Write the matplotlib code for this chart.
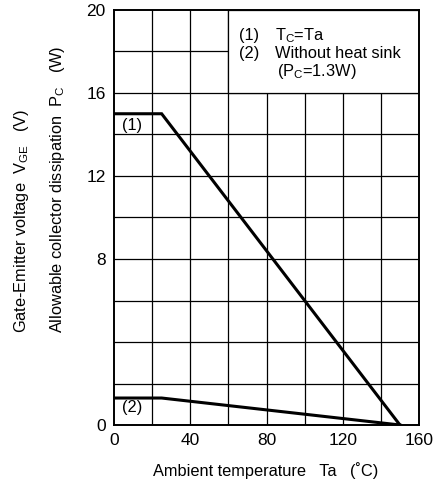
import matplotlib
matplotlib.use("Agg")
import matplotlib.pyplot as plt
from matplotlib.patches import Rectangle

plt.rcParams['font.family'] = ['Liberation Sans', 'DejaVu Sans']
plt.rcParams['mathtext.fontset'] = 'custom'
plt.rcParams['mathtext.rm'] = 'Liberation Sans'

# Data
ta_1 = [0, 25, 150]
pc_1 = [15.0, 15.0, 0.0]
ta_2 = [0, 25, 150]
pc_2 = [1.3, 1.3, 0.0]
x_ticks = [0, 40, 80, 120, 160]
y_ticks = [0, 8, 12, 16, 20]
x_grid = list(range(0, 161, 20))
y_grid = list(range(0, 21, 2))

fig = plt.figure(figsize=(4.46, 4.82), dpi=100)
ax = fig.add_axes([114/446, 1-425/482, 305/446, 415/482])
ax.set_xlim(0, 160)
ax.set_ylim(0, 20)

for xv in x_grid[1:-1]:
    ax.axvline(xv, color='black', lw=0.9, zorder=1)
for yv in y_grid[1:-1]:
    ax.axhline(yv, color='black', lw=0.9, zorder=1)

# legend box blanks grid
ax.add_patch(Rectangle((60, 16), 100, 4, facecolor='white', edgecolor='black', lw=0.9, zorder=2))

ax.plot(ta_1, pc_1, color='black', lw=2.2, zorder=3, solid_joinstyle='miter')
ax.plot(ta_2, pc_2, color='black', lw=2.2, zorder=3, solid_joinstyle='miter')

for s in ax.spines.values():
    s.set_linewidth(1.4)
    s.set_zorder(4)

ax.set_xticks(x_ticks)
ax.set_yticks(y_ticks)
ax.tick_params(length=0, labelsize=12.5, pad=6)

fs = 11.8
ax.text(65.5, 18.75, '(1)', fontsize=fs, va='center', ha='left', zorder=5)
ax.text(84.5, 18.75, r'T$_{\mathregular{C}}$=Ta', fontsize=fs, va='center', ha='left', zorder=5)
ax.text(65.5, 17.9, '(2)', fontsize=fs, va='center', ha='left', zorder=5)
ax.text(84.5, 17.9, 'Without heat sink', fontsize=fs, va='center', ha='left', zorder=5)
ax.text(85.5, 17.05, r'(P$_{\mathregular{C}}$=1.3W)', fontsize=fs, va='center', ha='left', zorder=5)

ax.text(4, 14.45, '(1)', fontsize=fs, va='center', ha='left', zorder=5)
ax.text(4, 0.85, '(2)', fontsize=fs, va='center', ha='left', zorder=5)

fig.text(266/446, 1-471/482, 'Ambient temperature   Ta   (\u02daC)', fontsize=fs, ha='center', va='center')
fig.text(22/446, 1-333/482, r'Gate-Emitter voltage  V$_{\mathregular{GE}}$   (V)', fontsize=fs,
         rotation=90, ha='center', va='bottom')
fig.text(58/446, 1-333/482, r'Allowable collector dissipation  P$_{\mathregular{C}}$   (W)', fontsize=fs,
         rotation=90, ha='center', va='bottom')

fig.savefig('out.png', dpi=100)
